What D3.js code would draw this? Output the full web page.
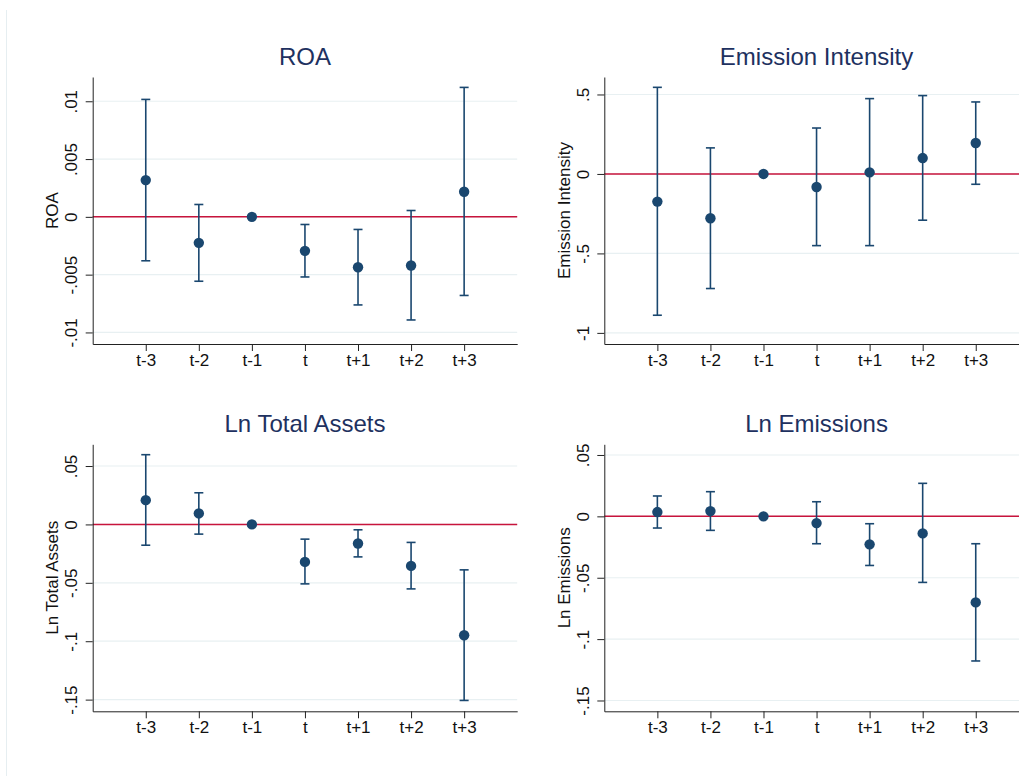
<!DOCTYPE html>
<html>
<head>
<meta charset="utf-8">
<script src="https://cdn.jsdelivr.net/npm/d3@7"></script>
<style>
  body { margin: 0; background: #fff; }
  svg { display: block; font-family: Arial, "Liberation Sans", sans-serif; }
</style>
</head>
<body>
<svg id="chart"></svg>
<script>
const periods = ["t-3", "t-2", "t-1", "t", "t+1", "t+2", "t+3"];

// ROA
const roaCoef = [0.00318, -0.00225, 0, -0.00294, -0.00436, -0.00421, 0.00217];
const roaLo   = [-0.0038, -0.00557, 0, -0.0052, -0.00762, -0.00892, -0.0068];
const roaHi   = [0.01016, 0.00107, 0, -0.00066, -0.00109, 0.00055, 0.0112];
const roaTicks  = [0.01, 0.005, 0, -0.005, -0.01];
const roaLabels = [".01", ".005", "0", "-.005", "-.01"];

// Emission Intensity
const eiCoef = [-0.174, -0.279, 0, -0.082, 0.010, 0.100, 0.195];
const eiLo   = [-0.889, -0.721, 0, -0.451, -0.451, -0.291, -0.065];
const eiHi   = [0.545, 0.164, 0, 0.289, 0.474, 0.493, 0.453];
const eiTicks  = [0.5, 0, -0.5, -1];
const eiLabels = [".5", "0", "-.5", "-1"];

// Ln Total Assets
const taCoef = [0.0208, 0.0094, 0, -0.0321, -0.0163, -0.0355, -0.0949];
const taLo   = [-0.0178, -0.0083, 0, -0.0509, -0.0278, -0.0552, -0.1507];
const taHi   = [0.0597, 0.0271, 0, -0.0126, -0.0046, -0.0154, -0.0389];
const taTicks  = [0.05, 0, -0.05, -0.1, -0.15];
const taLabels = [".05", "0", "-.05", "-.1", "-.15"];

// Ln Emissions
const leCoef = [0.0035, 0.0043, 0, -0.0055, -0.0228, -0.0139, -0.0701];
const leLo   = [-0.0095, -0.0114, 0, -0.0223, -0.040, -0.0538, -0.1178];
const leHi   = [0.0166, 0.0201, 0, 0.0119, -0.006, 0.0269, -0.0223];
const leTicks  = [0.05, 0, -0.05, -0.1, -0.15];
const leLabels = [".05", "0", "-.05", "-.1", "-.15"];

const width = 1019, height = 776;
const navy = "#1a476f";

const svg = d3.select("#chart").attr("width", width).attr("height", height);

svg.append("rect").attr("width", width).attr("height", height).attr("fill", "#fff");

// faint outer frame edge on the left
svg.append("line")
    .attr("x1", 6.5).attr("x2", 6.5).attr("y1", 10).attr("y2", height)
    .attr("stroke", "#e6eef1").attr("stroke-width", 1);

const panels = [
    { title: "ROA", coef: roaCoef, lo: roaLo, hi: roaHi, ticks: roaTicks, labels: roaLabels,
      domain: [-0.0110, 0.0121], left: 92.7, top: 77 },
    { title: "Emission Intensity", coef: eiCoef, lo: eiLo, hi: eiHi, ticks: eiTicks, labels: eiLabels,
      domain: [-1.07, 0.61], left: 604.3, top: 77 },
    { title: "Ln Total Assets", coef: taCoef, lo: taLo, hi: taHi, ticks: taTicks, labels: taLabels,
      domain: [-0.160, 0.0686], left: 92.7, top: 444.3 },
    { title: "Ln Emissions", coef: leCoef, lo: leLo, hi: leHi, ticks: leTicks, labels: leLabels,
      domain: [-0.1588, 0.0587], left: 604.3, top: 444.3 }
];

const pw = 424.5, ph = 267;

panels.forEach(p => {
    const g = svg.append("g").attr("transform", `translate(${p.left},${p.top})`);

    const x = d3.scaleLinear().domain([0, periods.length + 1]).range([0, pw]);
    const y = d3.scaleLinear().domain(p.domain).range([ph, 0]);

    // title
    g.append("text")
        .attr("x", pw / 2).attr("y", -12)
        .attr("text-anchor", "middle")
        .attr("font-size", 24)
        .attr("fill", "#1e3160")
        .text(p.title);

    // gridlines
    g.selectAll(".grid")
        .data(p.ticks)
        .enter()
        .append("line")
        .attr("x1", 0).attr("x2", pw)
        .attr("y1", d => y(d)).attr("y2", d => y(d))
        .attr("stroke", "#e8f0f2").attr("stroke-width", 1.2);

    // zero reference line
    g.append("line")
        .attr("x1", 0).attr("x2", pw)
        .attr("y1", y(0)).attr("y2", y(0))
        .attr("stroke", "#c8143c").attr("stroke-width", 1.5);

    const rows = periods.map((d, i) => ({ i: i + 1, coef: p.coef[i], lo: p.lo[i], hi: p.hi[i] }));
    const bars = rows.filter(d => d.hi !== d.lo);

    // error bars
    g.selectAll(".bar")
        .data(bars)
        .enter()
        .append("line")
        .attr("x1", d => x(d.i)).attr("x2", d => x(d.i))
        .attr("y1", d => y(d.lo)).attr("y2", d => y(d.hi))
        .attr("stroke", navy).attr("stroke-width", 1.6);

    ["lo", "hi"].forEach(k => {
        g.selectAll(".cap-" + k)
            .data(bars)
            .enter()
            .append("line")
            .attr("x1", d => x(d.i) - 4.5).attr("x2", d => x(d.i) + 4.5)
            .attr("y1", d => y(d[k])).attr("y2", d => y(d[k]))
            .attr("stroke", navy).attr("stroke-width", 1.6);
    });

    // point estimates
    g.selectAll(".pt")
        .data(rows)
        .enter()
        .append("circle")
        .attr("cx", d => x(d.i)).attr("cy", d => y(d.coef))
        .attr("r", 5.2)
        .attr("fill", navy);

    // y axis
    const yAxis = g.append("g")
        .call(d3.axisLeft(y).tickValues(p.ticks).tickSize(7).tickSizeOuter(0)
            .tickFormat((d, i) => p.labels[i]));
    yAxis.select(".domain").attr("stroke", "#222");
    yAxis.selectAll(".tick line").attr("stroke", "#222");
    yAxis.selectAll(".tick text")
        .attr("x", null).attr("dy", null)
        .attr("transform", "translate(-15.5,0) rotate(-90)")
        .attr("text-anchor", "middle")
        .attr("font-size", 17)
        .attr("fill", "#111");

    // x axis
    const xAxis = g.append("g")
        .attr("transform", `translate(0,${ph})`)
        .call(d3.axisBottom(x).tickValues(rows.map(d => d.i)).tickSize(7).tickSizeOuter(0)
            .tickFormat(d => periods[d - 1]));
    xAxis.select(".domain").attr("stroke", "#222");
    xAxis.selectAll(".tick line").attr("stroke", "#222");
    xAxis.selectAll(".tick text")
        .attr("y", 22).attr("dy", null)
        .attr("font-size", 17)
        .attr("fill", "#111");

    // y axis title
    g.append("text")
        .attr("transform", `translate(-34.5,${ph / 2}) rotate(-90)`)
        .attr("text-anchor", "middle")
        .attr("font-size", 17)
        .attr("fill", "#111")
        .text(p.title);
});
</script>
</body>
</html>
